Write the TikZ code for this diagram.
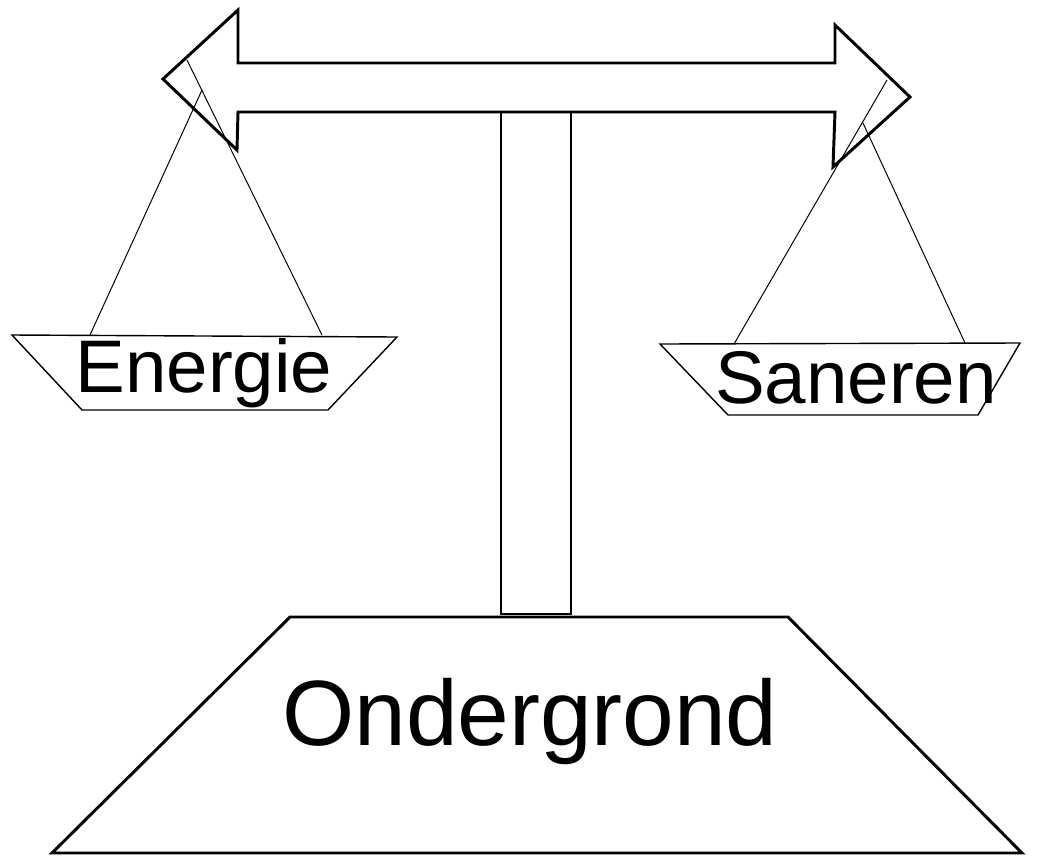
\documentclass[tikz,border=0pt]{standalone}
\usepackage{fontspec}
\setmainfont{Liberation Sans}
\usepackage{tikz}
\usetikzlibrary{positioning,calc}

\begin{document}
\begin{tikzpicture}[
    x=0.025cm, y=-0.025cm,
    beam/.style={draw, line width=2.1pt, line join=miter, fill=white},
    pan/.style={draw, line width=1pt},
    rope/.style={draw, line width=0.7pt},
    pillar/.style={draw, line width=1.4pt},
    ground/.style={draw, line width=2.1pt, line join=miter},
    label/.style={anchor=base, inner sep=0pt, font=\fontsize{53}{60}\selectfont},
    biglabel/.style={anchor=base, inner sep=0pt, font=\fontsize{66}{76}\selectfont}
]
    \useasboundingbox (0,0) rectangle (1048,857);

    % base and pillar
    \draw[ground] (290,617) -- (788,617) -- (1022,853) -- (52,853) -- cycle;
    \draw[pillar] (501,112) rectangle (571,614);

    % double arrow beam
    \draw[beam] (163,79) -- (238,10) -- (238,63) -- (835,63) -- (835,25)
        -- (910,97) -- (833,167) -- (835,112) -- (238,112) -- (237,150) -- cycle;

    % pans
    \draw[pan] (12,335) -- (397,337) -- (328,410) -- (82,410) -- cycle;
    \draw[pan] (660,344) -- (1020,343) -- (978,415) -- (728,415) -- cycle;

    % ropes
    \draw[rope] (187,60) -- (322,335);
    \draw[rope] (202,90) -- (90,335);
    \draw[rope] (887,80) -- (734,344);
    \draw[rope] (863,123) -- (965,343);

    \node[label] (energie) at (204,392) {Energie};
    \node[label] (saneren) at (856,403) {Saneren};
    \node[biglabel] (ondergrond) at (530,745) {Ondergrond};
\end{tikzpicture}
\end{document}
